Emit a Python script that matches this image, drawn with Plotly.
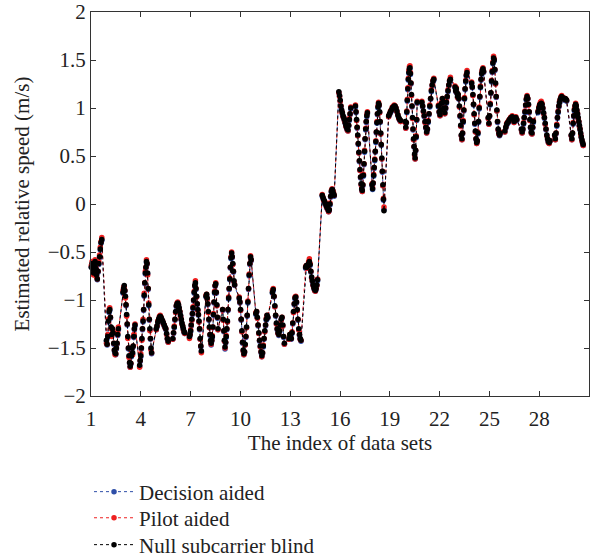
import plotly.graph_objects as go

# ---- Data: estimated relative speed (m/s), one list per data set (1..30) ----
NULL_BLIND = [
    [-0.76, -0.70, -0.66, -0.62, -0.68, -0.72, -0.64, -0.60, -0.67, -0.74, -0.78, -0.70, -0.62, -0.55, -0.47, -0.40, -0.37],
    [-1.42, -1.46, -1.38, -1.22, -1.12, -1.10, -1.18, -1.28, -1.36, -1.30, -1.34, -1.45, -1.52, -1.55, -1.56, -1.50, -1.45, -1.36, -1.30],
    [-0.92, -0.88, -0.85, -0.90, -0.96, -1.05, -1.15, -1.25, -1.38, -1.50, -1.58, -1.65, -1.69, -1.66, -1.58, -1.50, -1.55, -1.48, -1.38, -1.30, -1.26],
    [-1.68, -1.63, -1.58, -1.50, -1.40, -1.30, -1.22, -1.10, -0.95, -0.82, -0.72, -0.66, -0.60, -0.62, -0.72, -0.88, -1.05, -1.20, -1.30, -1.40, -1.50, -1.55],
    [-1.30, -1.27, -1.23, -1.20, -1.18, -1.17, -1.18, -1.20, -1.22, -1.24, -1.26, -1.28, -1.30, -1.35, -1.40, -1.43],
    [-1.40, -1.34, -1.28, -1.20, -1.12, -1.06, -1.04, -1.03, -1.05, -1.08, -1.12, -1.16, -1.20, -1.24, -1.27, -1.30, -1.33, -1.34],
    [-1.38, -1.36, -1.32, -1.26, -1.20, -1.14, -1.08, -1.00, -0.92, -0.85, -0.82, -0.88, -0.96, -1.04, -1.10, -1.15, -1.22, -1.30, -1.40, -1.48, -1.53],
    [-0.96, -0.94, -0.98, -1.04, -1.12, -1.20, -1.28, -1.36, -1.42, -1.45, -1.42, -1.38, -1.28, -1.15, -1.02, -0.92, -0.85, -0.83, -0.92, -1.05, -1.18, -1.30],
    [-1.10, -1.20, -1.32, -1.42, -1.49, -1.44, -1.38, -1.30, -1.22, -1.10, -0.98, -0.88, -0.78, -0.66, -0.56, -0.51, -0.55, -0.62, -0.70, -0.80, -0.84],
    [-0.98, -1.02, -1.10, -1.20, -1.32, -1.44, -1.52, -1.56, -1.54, -1.46, -1.38, -1.28, -1.16, -1.02, -0.88, -0.74, -0.62, -0.55, -0.58],
    [-1.14, -1.12, -1.18, -1.26, -1.34, -1.42, -1.48, -1.54, -1.58, -1.55, -1.48, -1.40, -1.32, -1.26, -1.20, -1.16, -1.18],
    [-0.92, -0.89, -0.96, -1.06, -1.16, -1.24, -1.30, -1.34, -1.36, -1.32, -1.26, -1.20, -1.18, -1.26, -1.38, -1.45],
    [-1.40, -1.36, -1.38, -1.40, -1.34, -1.24, -1.12, -1.04, -0.98, -0.97, -1.02, -1.10, -1.20, -1.30, -1.36, -1.40, -1.42],
    [-0.66, -0.64, -0.66, -0.64, -0.62, -0.60, -0.63, -0.70, -0.76, -0.80, -0.84, -0.87, -0.89, -0.90, -0.88, -0.84, -0.79],
    [0.09, 0.07, 0.05, 0.03, 0.01, 0.00, -0.02, -0.04, -0.05, -0.07, -0.06, 0.00, 0.08, 0.13, 0.15, 0.14, 0.11, 0.09],
    [1.17, 1.13, 1.08, 1.02, 0.98, 0.95, 0.92, 0.90, 0.88, 0.85, 0.82, 0.80, 0.78, 0.77, 0.82, 0.88, 0.94, 1.00],
    [1.02, 0.96, 0.88, 0.80, 0.72, 0.63, 0.54, 0.45, 0.36, 0.28, 0.21, 0.16, 0.14, 0.20, 0.30, 0.42, 0.55, 0.68, 0.78, 0.86, 0.92, 0.95],
    [0.20, 0.16, 0.22, 0.30, 0.38, 0.46, 0.55, 0.65, 0.75, 0.85, 0.94, 1.01, 1.05, 1.03, 0.96, 0.86, 0.74, 0.62, 0.48, 0.34, 0.20, 0.05, -0.07],
    [0.92, 0.94, 0.96, 0.98, 1.00, 1.01, 1.02, 1.02, 1.00, 0.97, 0.93, 0.90, 0.88, 0.87],
    [0.86, 0.80, 0.85, 0.96, 1.08, 1.20, 1.30, 1.37, 1.41, 1.42, 1.36, 1.26, 1.14, 1.02, 0.90, 0.78, 0.68, 0.60, 0.52, 0.48, 0.56, 0.70, 0.88, 1.06],
    [1.06, 1.02, 0.97, 0.92, 0.86, 0.80, 0.75, 0.78, 0.86, 0.94, 1.02, 1.10, 1.18, 1.24, 1.28, 1.30],
    [1.02, 0.96, 0.93, 0.98, 1.05, 1.10, 1.06, 1.00, 0.95, 1.00, 1.06, 1.12, 1.18, 1.24, 1.28, 1.30],
    [1.22, 1.18, 1.20, 1.16, 1.12, 1.14, 1.10, 1.02, 0.92, 0.82, 0.72, 0.68, 0.74, 0.86, 0.98, 1.10, 1.20, 1.28, 1.34, 1.37],
    [1.26, 1.22, 1.14, 1.04, 0.94, 0.84, 0.76, 0.68, 0.64, 0.66, 0.74, 0.86, 1.00, 1.12, 1.22, 1.30, 1.36, 1.39, 1.41, 1.38],
    [0.90, 0.84, 0.92, 1.04, 1.16, 1.28, 1.38, 1.47, 1.52, 1.50, 1.40, 1.26, 1.12, 0.98, 0.86, 0.78, 0.74, 0.72, 0.74],
    [0.76, 0.80, 0.83, 0.85, 0.86, 0.88, 0.89, 0.90, 0.91, 0.90, 0.86, 0.87, 0.90, 0.88],
    [0.78, 0.75, 0.78, 0.84, 0.90, 0.96, 1.03, 1.09, 1.12, 1.10, 1.04, 0.96, 0.88, 0.80, 0.75, 0.74, 0.80, 0.86],
    [0.96, 1.00, 1.03, 1.04, 1.05, 1.04, 1.00, 0.95, 0.90, 0.84, 0.78, 0.72, 0.68, 0.65, 0.64, 0.66],
    [0.72, 0.68, 0.74, 0.82, 0.90, 0.96, 1.02, 1.06, 1.09, 1.11, 1.12, 1.11, 1.10, 1.10, 1.09, 1.10, 1.09, 1.08],
    [0.72, 0.68, 0.74, 0.84, 0.92, 0.98, 1.02, 1.04, 1.02, 0.98, 0.94, 0.90, 0.86, 0.82, 0.78, 0.74, 0.70, 0.67, 0.64, 0.62],
]

PILOT_AIDED = [
    [-0.78, -0.70, -0.64, -0.60, -0.68, -0.74, -0.64, -0.58, -0.67, -0.76, -0.78, -0.70, -0.60, -0.53, -0.45, -0.39, -0.35],
    [-1.45, -1.46, -1.36, -1.20, -1.10, -1.08, -1.18, -1.30, -1.38, -1.30, -1.32, -1.45, -1.52, -1.57, -1.56, -1.50, -1.45, -1.34, -1.28],
    [-0.90, -0.87, -0.86, -0.90, -0.98, -1.05, -1.17, -1.25, -1.40, -1.50, -1.60, -1.65, -1.70, -1.66, -1.56, -1.50, -1.57, -1.48, -1.36, -1.30, -1.25],
    [-1.70, -1.63, -1.56, -1.50, -1.42, -1.30, -1.20, -1.10, -0.93, -0.82, -0.70, -0.66, -0.58, -0.62, -0.74, -0.88, -1.03, -1.20, -1.32, -1.40, -1.52, -1.55],
    [-1.31, -1.27, -1.22, -1.20, -1.17, -1.16, -1.18, -1.21, -1.22, -1.25, -1.26, -1.29, -1.30, -1.36, -1.40, -1.44],
    [-1.41, -1.34, -1.27, -1.20, -1.13, -1.06, -1.03, -1.02, -1.05, -1.09, -1.12, -1.17, -1.20, -1.25, -1.27, -1.31, -1.33, -1.35],
    [-1.40, -1.36, -1.31, -1.26, -1.21, -1.14, -1.07, -1.00, -0.91, -0.85, -0.80, -0.88, -0.97, -1.04, -1.11, -1.15, -1.23, -1.30, -1.41, -1.48, -1.55],
    [-0.95, -0.94, -0.99, -1.04, -1.13, -1.20, -1.29, -1.36, -1.43, -1.46, -1.42, -1.37, -1.28, -1.14, -1.02, -0.91, -0.85, -0.82, -0.92, -1.06, -1.18, -1.31],
    [-1.10, -1.21, -1.32, -1.43, -1.50, -1.44, -1.37, -1.30, -1.23, -1.10, -0.97, -0.88, -0.77, -0.66, -0.55, -0.50, -0.55, -0.63, -0.70, -0.81, -0.84],
    [-0.97, -1.02, -1.11, -1.20, -1.33, -1.44, -1.53, -1.57, -1.54, -1.47, -1.38, -1.29, -1.16, -1.01, -0.88, -0.73, -0.62, -0.54, -0.58],
    [-1.13, -1.12, -1.19, -1.26, -1.35, -1.42, -1.49, -1.54, -1.59, -1.55, -1.47, -1.40, -1.33, -1.26, -1.19, -1.16, -1.18],
    [-0.90, -0.88, -0.96, -1.07, -1.16, -1.25, -1.30, -1.35, -1.36, -1.31, -1.26, -1.21, -1.18, -1.27, -1.38, -1.46],
    [-1.41, -1.36, -1.39, -1.40, -1.33, -1.24, -1.13, -1.04, -0.97, -0.96, -1.02, -1.11, -1.20, -1.31, -1.36, -1.41, -1.42],
    [-0.65, -0.64, -0.67, -0.63, -0.60, -0.57, -0.62, -0.70, -0.77, -0.80, -0.85, -0.87, -0.90, -0.91, -0.88, -0.85, -0.78],
    [0.10, 0.07, 0.04, 0.03, 0.02, 0.00, -0.03, -0.04, -0.06, -0.08, -0.06, 0.01, 0.08, 0.14, 0.16, 0.14, 0.12, 0.09],
    [1.16, 1.12, 1.07, 1.02, 0.97, 0.95, 0.91, 0.90, 0.87, 0.85, 0.81, 0.80, 0.77, 0.76, 0.82, 0.89, 0.94, 1.01],
    [1.03, 0.96, 0.87, 0.80, 0.71, 0.63, 0.53, 0.45, 0.35, 0.28, 0.20, 0.16, 0.13, 0.20, 0.31, 0.42, 0.56, 0.68, 0.79, 0.86, 0.93, 0.96],
    [0.21, 0.17, 0.22, 0.31, 0.38, 0.47, 0.55, 0.66, 0.75, 0.86, 0.94, 1.02, 1.06, 1.03, 0.95, 0.86, 0.73, 0.62, 0.47, 0.34, 0.19, 0.06, -0.03],
    [0.91, 0.94, 0.97, 0.98, 1.01, 1.01, 1.03, 1.02, 1.00, 0.96, 0.93, 0.89, 0.88, 0.86],
    [0.85, 0.79, 0.85, 0.97, 1.09, 1.21, 1.31, 1.39, 1.43, 1.44, 1.37, 1.26, 1.13, 1.02, 0.89, 0.78, 0.67, 0.60, 0.51, 0.47, 0.56, 0.71, 0.88, 1.07],
    [1.07, 1.02, 0.96, 0.92, 0.85, 0.80, 0.74, 0.78, 0.87, 0.94, 1.03, 1.10, 1.19, 1.24, 1.29, 1.31],
    [1.03, 0.96, 0.92, 0.98, 1.06, 1.10, 1.07, 1.00, 0.94, 1.00, 1.07, 1.12, 1.19, 1.24, 1.29, 1.32],
    [1.23, 1.18, 1.21, 1.16, 1.11, 1.14, 1.10, 1.01, 0.92, 0.81, 0.71, 0.67, 0.74, 0.87, 0.98, 1.11, 1.20, 1.29, 1.35, 1.39],
    [1.27, 1.22, 1.13, 1.04, 0.93, 0.84, 0.75, 0.68, 0.63, 0.66, 0.75, 0.86, 1.01, 1.12, 1.23, 1.30, 1.37, 1.40, 1.42, 1.38],
    [0.89, 0.83, 0.92, 1.05, 1.16, 1.29, 1.39, 1.48, 1.54, 1.51, 1.40, 1.25, 1.12, 0.97, 0.86, 0.77, 0.73, 0.72, 0.75],
    [0.75, 0.80, 0.84, 0.85, 0.87, 0.88, 0.90, 0.90, 0.92, 0.90, 0.85, 0.87, 0.91, 0.88],
    [0.77, 0.74, 0.78, 0.85, 0.90, 0.97, 1.03, 1.10, 1.13, 1.10, 1.03, 0.96, 0.87, 0.80, 0.74, 0.73, 0.80, 0.87],
    [0.97, 1.01, 1.04, 1.06, 1.07, 1.05, 1.00, 0.94, 0.90, 0.83, 0.78, 0.71, 0.68, 0.64, 0.63, 0.66],
    [0.71, 0.67, 0.74, 0.83, 0.90, 0.97, 1.02, 1.07, 1.09, 1.12, 1.13, 1.11, 1.11, 1.10, 1.10, 1.10, 1.09, 1.08],
    [0.71, 0.67, 0.74, 0.85, 0.92, 0.99, 1.02, 1.05, 1.02, 0.97, 0.94, 0.89, 0.86, 0.81, 0.78, 0.73, 0.70, 0.66, 0.64, 0.61],
]

DECISION_AIDED = [
    [-0.77, -0.71, -0.66, -0.63, -0.69, -0.73, -0.65, -0.61, -0.68, -0.75, -0.79, -0.71, -0.63, -0.56, -0.48, -0.41, -0.38],
    [-1.43, -1.47, -1.39, -1.23, -1.13, -1.11, -1.19, -1.29, -1.37, -1.31, -1.35, -1.46, -1.53, -1.56, -1.57, -1.51, -1.46, -1.37, -1.31],
    [-0.93, -0.89, -0.86, -0.91, -0.97, -1.06, -1.16, -1.26, -1.39, -1.51, -1.59, -1.66, -1.70, -1.67, -1.59, -1.51, -1.56, -1.49, -1.39, -1.31, -1.27],
    [-1.69, -1.64, -1.59, -1.51, -1.41, -1.31, -1.23, -1.11, -0.96, -0.83, -0.73, -0.67, -0.61, -0.63, -0.73, -0.89, -1.06, -1.21, -1.31, -1.41, -1.51, -1.56],
    [-1.31, -1.28, -1.24, -1.21, -1.19, -1.18, -1.19, -1.21, -1.23, -1.25, -1.27, -1.29, -1.31, -1.36, -1.41, -1.44],
    [-1.41, -1.35, -1.29, -1.21, -1.13, -1.07, -1.05, -1.04, -1.06, -1.09, -1.13, -1.17, -1.21, -1.25, -1.28, -1.31, -1.34, -1.35],
    [-1.39, -1.37, -1.33, -1.27, -1.21, -1.15, -1.09, -1.01, -0.93, -0.86, -0.83, -0.89, -0.97, -1.05, -1.11, -1.16, -1.23, -1.31, -1.41, -1.49, -1.54],
    [-0.97, -0.95, -0.99, -1.05, -1.13, -1.21, -1.29, -1.37, -1.43, -1.47, -1.43, -1.39, -1.29, -1.16, -1.03, -0.93, -0.86, -0.84, -0.93, -1.06, -1.19, -1.31],
    [-1.11, -1.21, -1.33, -1.43, -1.51, -1.45, -1.39, -1.31, -1.23, -1.11, -0.99, -0.89, -0.79, -0.67, -0.57, -0.52, -0.56, -0.63, -0.71, -0.81, -0.85],
    [-0.99, -1.03, -1.11, -1.21, -1.33, -1.45, -1.53, -1.57, -1.55, -1.47, -1.39, -1.29, -1.17, -1.03, -0.89, -0.75, -0.63, -0.56, -0.59],
    [-1.15, -1.13, -1.19, -1.27, -1.35, -1.43, -1.49, -1.55, -1.59, -1.56, -1.49, -1.41, -1.33, -1.27, -1.21, -1.17, -1.19],
    [-0.93, -0.90, -0.97, -1.07, -1.17, -1.25, -1.31, -1.35, -1.37, -1.33, -1.27, -1.21, -1.19, -1.27, -1.39, -1.46],
    [-1.41, -1.37, -1.39, -1.41, -1.35, -1.25, -1.13, -1.05, -0.99, -0.98, -1.03, -1.11, -1.21, -1.31, -1.37, -1.41, -1.43],
    [-0.67, -0.65, -0.67, -0.65, -0.63, -0.61, -0.64, -0.71, -0.77, -0.81, -0.85, -0.88, -0.90, -0.91, -0.89, -0.85, -0.80],
    [0.08, 0.06, 0.04, 0.02, 0.00, -0.01, -0.03, -0.05, -0.06, -0.08, -0.07, -0.01, 0.07, 0.12, 0.14, 0.13, 0.10, 0.08],
    [1.16, 1.12, 1.07, 1.01, 0.97, 0.94, 0.91, 0.89, 0.87, 0.84, 0.81, 0.79, 0.77, 0.76, 0.81, 0.87, 0.93, 0.99],
    [1.01, 0.95, 0.87, 0.79, 0.71, 0.62, 0.53, 0.44, 0.35, 0.27, 0.20, 0.15, 0.13, 0.19, 0.29, 0.41, 0.54, 0.67, 0.77, 0.85, 0.91, 0.94],
    [0.19, 0.15, 0.21, 0.29, 0.37, 0.45, 0.54, 0.64, 0.74, 0.84, 0.93, 1.00, 1.04, 1.02, 0.95, 0.85, 0.73, 0.61, 0.47, 0.33, 0.19, 0.04, -0.06],
    [0.91, 0.93, 0.95, 0.97, 0.99, 1.00, 1.01, 1.01, 0.99, 0.96, 0.92, 0.89, 0.87, 0.86],
    [0.85, 0.79, 0.84, 0.95, 1.07, 1.19, 1.29, 1.36, 1.40, 1.41, 1.35, 1.25, 1.13, 1.01, 0.89, 0.77, 0.67, 0.59, 0.51, 0.47, 0.55, 0.69, 0.87, 1.05],
    [1.05, 1.01, 0.96, 0.91, 0.85, 0.79, 0.74, 0.77, 0.85, 0.93, 1.01, 1.09, 1.17, 1.23, 1.27, 1.29],
    [1.01, 0.95, 0.92, 0.97, 1.04, 1.09, 1.05, 0.99, 0.94, 0.99, 1.05, 1.11, 1.17, 1.23, 1.27, 1.29],
    [1.21, 1.17, 1.19, 1.15, 1.11, 1.13, 1.09, 1.01, 0.91, 0.81, 0.71, 0.67, 0.73, 0.85, 0.97, 1.09, 1.19, 1.27, 1.33, 1.36],
    [1.25, 1.21, 1.13, 1.03, 0.93, 0.83, 0.75, 0.67, 0.63, 0.65, 0.73, 0.85, 0.99, 1.11, 1.21, 1.29, 1.35, 1.38, 1.40, 1.37],
    [0.89, 0.83, 0.91, 1.03, 1.15, 1.27, 1.37, 1.46, 1.51, 1.49, 1.39, 1.25, 1.11, 0.97, 0.85, 0.77, 0.73, 0.71, 0.73],
    [0.75, 0.79, 0.82, 0.84, 0.85, 0.87, 0.88, 0.89, 0.90, 0.89, 0.85, 0.86, 0.89, 0.87],
    [0.77, 0.74, 0.77, 0.83, 0.89, 0.95, 1.02, 1.08, 1.11, 1.09, 1.03, 0.95, 0.87, 0.79, 0.74, 0.73, 0.79, 0.85],
    [0.95, 0.99, 1.02, 1.03, 1.04, 1.03, 0.99, 0.94, 0.89, 0.83, 0.77, 0.71, 0.67, 0.64, 0.63, 0.65],
    [0.71, 0.67, 0.73, 0.81, 0.89, 0.95, 1.01, 1.05, 1.08, 1.10, 1.11, 1.10, 1.09, 1.09, 1.08, 1.09, 1.08, 1.07],
    [0.71, 0.67, 0.73, 0.83, 0.91, 0.97, 1.01, 1.03, 1.01, 0.97, 0.93, 0.89, 0.85, 0.81, 0.77, 0.73, 0.69, 0.66, 0.63, 0.61],
]

SERIES_NAMES = ["Decision aided", "Pilot aided", "Null subcarrier blind"]
SERIES_COLORS = ["#2f4fa8", "#ee2020", "#000000"]
X_TICKS = [1, 4, 7, 10, 13, 16, 19, 22, 25, 28]
Y_TICKS = [-2, -1.5, -1, -0.5, 0, 0.5, 1, 1.5, 2]

# samples of data set n are spread over [n + START, n + START + SPAN]
START = -0.07
SPAN = 0.72


def flatten(sets):
    xs, ys = [], []
    for i, vals in enumerate(sets):
        n = i + 1
        m = len(vals)
        for k, v in enumerate(vals):
            xs.append(n + START + SPAN * k / (m - 1))
            ys.append(v)
    return xs, ys


FONT = "Liberation Serif"
FS = 21
LEGEND_IDS = ["legend", "legend2", "legend3"]
LEGEND_Y = [-0.25, -0.318, -0.388]

fig = go.Figure()
for name, color, sets, lid in zip(SERIES_NAMES, SERIES_COLORS,
                                  [DECISION_AIDED, PILOT_AIDED, NULL_BLIND], LEGEND_IDS):
    xs, ys = flatten(sets)
    fig.add_trace(go.Scatter(
        x=xs, y=ys, name=name, mode="lines+markers",
        line=dict(color=color, width=1, dash="dot"),
        marker=dict(color=color, size=5.5),
        cliponaxis=False, legend=lid,
    ))

axis_common = dict(
    showline=True, linecolor="#333333", linewidth=1, mirror="ticks",
    ticks="inside", ticklen=5, tickcolor="#333333", showgrid=False,
    zeroline=False, tickfont=dict(family=FONT, size=FS, color="#222222"),
    ticklabeloverflow="allow", automargin=False,
)
legend_common = dict(x=-0.004, xanchor="left", yanchor="middle",
                     font=dict(family=FONT, size=FS, color="#222222"),
                     bgcolor="rgba(0,0,0,0)", itemwidth=40)

fig.update_layout(
    width=601, height=560,
    margin=dict(l=91, r=12, t=12, b=164, autoexpand=False),
    paper_bgcolor="white", plot_bgcolor="white",
    font=dict(family=FONT, size=FS, color="#222222"),
    xaxis=dict(range=[1, 31], tickvals=X_TICKS, ticktext=[str(v) for v in X_TICKS],
               ticklabelstandoff=4,
               title=dict(text="The index of data sets", font=dict(family=FONT, size=FS), standoff=4),
               **axis_common),
    yaxis=dict(range=[-2, 2], tickvals=Y_TICKS,
               title=dict(text="Estimated relative speed (m/s)", font=dict(family=FONT, size=FS), standoff=12),
               **axis_common),
    legend=dict(y=LEGEND_Y[0], **legend_common),
    legend2=dict(y=LEGEND_Y[1], **legend_common),
    legend3=dict(y=LEGEND_Y[2], **legend_common),
    showlegend=True,
)

fig.write_html("out.html")
